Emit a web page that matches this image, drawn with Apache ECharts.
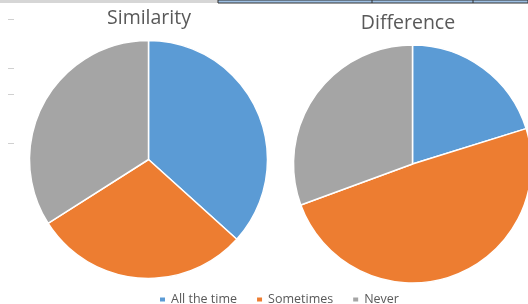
<!DOCTYPE html>
<html>
<head>
<meta charset="utf-8">
<script src="https://cdn.jsdelivr.net/npm/echarts@6/dist/echarts.min.js"></script>
<style>html,body{margin:0;padding:0;background:#fff}#c{width:528px;height:304px}</style>
</head>
<body>
<div id="c"></div>
<script>
var categories = ['All the time', 'Sometimes', 'Never'];
var chartTitles = ['Similarity', 'Difference'];
var similarityValues = [36.7, 29.3, 34.0];
var differenceValues = [20.2, 49.2, 30.6];
var colors = ['#5b9bd5', '#ed7d31', '#a5a5a5'];

function toData(vals) {
  return categories.map(function (c, i) { return { name: c, value: vals[i] }; });
}

var chart = echarts.init(document.getElementById('c'), null, { renderer: 'canvas' });
var font = '"Open Sans", "Liberation Sans", sans-serif';
chart.setOption({
  animation: false,
  color: colors,
  title: [
    { text: chartTitles[0], left: 144, top: 3, textAlign: 'center',
      textStyle: { fontFamily: font, fontSize: 19.5, fontWeight: 'normal', color: '#595959' } },
    { text: chartTitles[1], left: 403, top: 8, textAlign: 'center',
      textStyle: { fontFamily: font, fontSize: 19.5, fontWeight: 'normal', color: '#595959' } }
  ],
  legend: {
    data: categories,
    left: 153, top: 288,
    icon: 'rect', itemWidth: 7, itemHeight: 6, itemGap: 18,
    textStyle: { fontFamily: font, fontSize: 12.5, color: '#595959' }
  },
  graphic: [
    { type: 'rect', shape: { x: 0, y: 0, width: 218, height: 3 }, style: { fill: '#d6d6d6' }, silent: true },
    { type: 'rect', shape: { x: 218, y: 0, width: 310, height: 3 }, style: { fill: '#9dbfe3', stroke: '#333', lineWidth: 1 }, silent: true },
    { type: 'line', shape: { x1: 372, y1: 0, x2: 372, y2: 3 }, style: { stroke: '#333', lineWidth: 1 }, silent: true },
    { type: 'line', shape: { x1: 473, y1: 0, x2: 473, y2: 3 }, style: { stroke: '#333', lineWidth: 1 }, silent: true },
    { type: 'line', shape: { x1: 8, y1: 19.5, x2: 14, y2: 19.5 }, style: { stroke: '#d0d0d0', lineWidth: 1 }, silent: true },
    { type: 'line', shape: { x1: 8, y1: 68.5, x2: 14, y2: 68.5 }, style: { stroke: '#d0d0d0', lineWidth: 1 }, silent: true },
    { type: 'line', shape: { x1: 8, y1: 94.5, x2: 14, y2: 94.5 }, style: { stroke: '#d0d0d0', lineWidth: 1 }, silent: true },
    { type: 'line', shape: { x1: 8, y1: 143.5, x2: 14, y2: 143.5 }, style: { stroke: '#d0d0d0', lineWidth: 1 }, silent: true }
  ],
  series: [
    {
      type: 'pie', name: chartTitles[0],
      center: [148.5, 159.5], radius: 119, startAngle: 90, clockwise: true,
      label: { show: false }, labelLine: { show: false },
      itemStyle: { borderColor: '#fff', borderWidth: 1.5 },
      emphasis: { disabled: true },
      data: toData(similarityValues)
    },
    {
      type: 'pie', name: chartTitles[1],
      center: [412.5, 164], radius: 119, startAngle: 90, clockwise: true,
      label: { show: false }, labelLine: { show: false },
      itemStyle: { borderColor: '#fff', borderWidth: 1.5 },
      emphasis: { disabled: true },
      data: toData(differenceValues)
    }
  ]
});
</script>
</body>
</html>
